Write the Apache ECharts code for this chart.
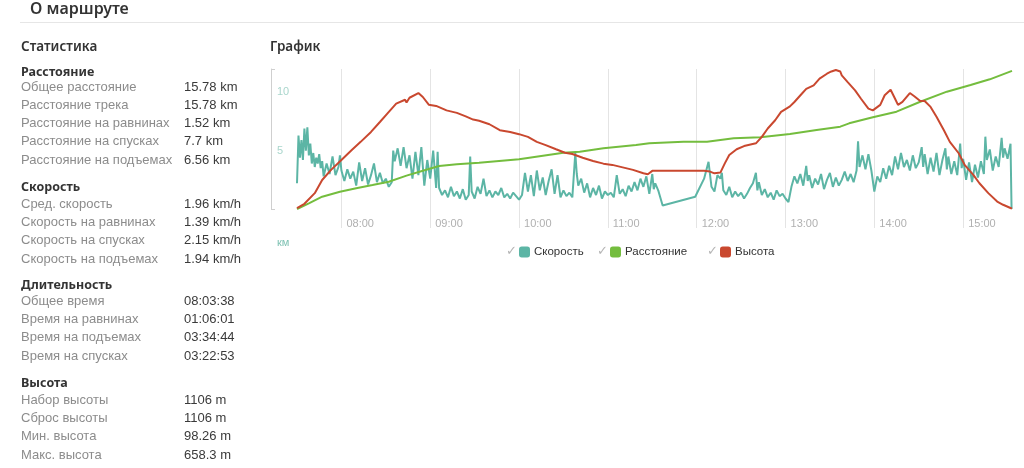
<!DOCTYPE html>
<html>
<head>
<meta charset="utf-8">
<script src="https://cdn.jsdelivr.net/npm/echarts@6/dist/echarts.min.js"></script>
<style>
html,body{margin:0;padding:0;background:#fff;}
#wrap{position:relative;width:1024px;height:468px;overflow:hidden;}
#chart{position:absolute;left:0;top:0;width:1024px;height:468px;}
.t{position:absolute;white-space:nowrap;pointer-events:none;z-index:2;}
.title{font-family:"Noto Sans",sans-serif;font-weight:600;color:#333;}
.h{font-family:"Noto Sans",sans-serif;font-weight:700;font-size:12.5px;color:#333;line-height:16px;}
.row{font-family:"Liberation Sans",Arial,sans-serif;font-size:13px;line-height:18.3px;height:18.3px;}
.row .l{position:absolute;left:0;color:#8c8c8c;}
.row .v{position:absolute;left:163px;color:#3a3a3a;}
#hr{position:absolute;left:20px;top:22px;width:1004px;height:1px;background:#e6e6e6;}
</style>
</head>
<body>
<div id="wrap">
<div id="chart"></div>
<div id="hr"></div>
<div class="t title" style="left:30px;top:-2px;font-size:16px;line-height:20px;">О маршруте</div>
<div class="t title" style="left:21px;top:37px;font-size:13.5px;line-height:18px;">Статистика</div>
<div class="t title" style="left:270px;top:37px;font-size:13.5px;line-height:18px;">График</div>
<div id="stats"></div>
</div>
<script>
// ---------- statistics panel data ----------
const statSections = ['Расстояние', 'Скорость', 'Длительность', 'Высота'];
const statLabels = [
  ['Общее расстояние', 'Расстояние трека', 'Расстояние на равнинах', 'Расстояние на спусках', 'Расстояние на подъемах'],
  ['Сред. скорость', 'Скорость на равнинах', 'Скорость на спусках', 'Скорость на подъемах'],
  ['Общее время', 'Время на равнинах', 'Время на подъемах', 'Время на спусках'],
  ['Набор высоты', 'Сброс высоты', 'Мин. высота', 'Макс. высота']
];
const statValues = [
  ['15.78 km', '15.78 km', '1.52 km', '7.7 km', '6.56 km'],
  ['1.96 km/h', '1.39 km/h', '2.15 km/h', '1.94 km/h'],
  ['08:03:38', '01:06:01', '03:34:44', '03:22:53'],
  ['1106 m', '1106 m', '98.26 m', '658.3 m']
];

// ---------- chart data (time in minutes of the day) ----------
const xTickLabels = ['08:00', '09:00', '10:00', '11:00', '12:00', '13:00', '14:00', '15:00'];
const yTickLabels = [5, 10];
const seriesNames = ['Скорость', 'Расстояние', 'Высота'];

const speedTimes = [450,451,452,453,454,455,456,457,458,459,460,461,462,463,464,465,466,467,468,470,472,474,476,478,479,480,482,484,486,488,490,492,494,496,498,500,502,504,506,508,510,512,514,515,516,518,520,522,524,526,528,530,532,534,536,538,540,542,544,545,546,548,550,552,554,556,558,560,562,564,566,567,568,570,572,574,576,578,580,582,584,586,588,590,592,594,596,598,600,602,604,606,608,610,612,614,616,618,620,622,624,626,628,630,632,634,636,638,639,640,642,644,646,648,650,652,654,656,658,660,662,664,666,668,670,672,674,676,678,680,682,684,686,688,690,691,692,694,697,719,725,728,730,732,734,736,737,738,740,742,744,746,748,750,752,754,756,758,760,761,762,764,766,768,770,772,774,776,778,780,782,784,786,788,790,792,794,795,796,798,800,802,804,806,808,810,812,814,816,818,820,822,824,826,828,829,830,832,834,836,838,840,842,844,846,848,850,852,854,856,858,860,862,864,866,868,870,872,873,874,876,878,880,882,884,886,888,889,890,892,894,896,898,899,900,902,904,906,908,910,912,914,915,916,918,920,922,924,926,927,928,930,932,932.7];
const speedValues = [2.2,6.3,4.4,5.9,4.2,6.9,5.0,7.0,4.6,5.6,3.9,4.8,3.6,4.4,3.9,4.7,3.5,4.1,2.8,3.9,3.0,4.5,2.9,3.6,4.6,3.3,2.4,3.4,2.6,3.2,2.0,4.0,2.4,3.5,2.1,2.9,3.9,2.3,3.1,2.2,2.6,1.9,2.3,5.0,4.1,5.2,3.7,5.3,3.5,4.6,2.6,4.9,2.9,5.3,2.0,4.2,2.6,5.0,1.8,4.9,1.8,1.2,1.6,1.0,1.9,1.1,1.5,0.9,1.7,0.8,1.2,4.5,1.5,0.9,1.9,1.3,2.6,1.1,1.6,1.0,1.5,1.2,1.8,1.0,1.3,0.9,1.4,1.1,0.8,1.2,3.1,1.5,2.9,1.1,3.3,1.6,2.7,1.2,2.4,3.4,1.3,2.9,1.0,1.6,1.1,1.4,1.0,4.8,3.0,2.0,2.6,1.4,2.2,1.0,1.8,1.2,2.0,0.9,1.5,1.2,1.4,1.0,2.9,1.3,1.7,1.1,2.0,1.5,2.3,1.6,2.6,1.9,2.8,1.3,3.0,1.7,2.2,1.6,0.3,1.05,2.6,4.05,1.9,1.5,2.9,2.6,3.1,1.6,1.2,1.9,1.0,1.5,1.1,1.4,0.9,1.3,1.8,2.2,3.1,1.6,2.3,1.2,1.7,1.0,1.4,0.8,1.6,1.1,1.3,0.9,0.6,1.9,2.8,2.2,3.0,2.0,3.7,2.4,2.9,1.8,2.6,2.1,3.0,1.7,2.5,3.1,1.9,2.7,2.0,2.5,3.2,2.4,3.0,2.3,3.3,5.8,3.6,4.6,3.4,4.7,3.3,1.5,2.8,2.3,3.5,2.6,3.7,2.9,4.5,3.4,4.8,3.6,4.2,3.3,4.6,3.5,4.0,5.3,3.6,4.7,3.0,4.4,3.2,4.8,2.9,4.2,5.2,3.4,4.5,3.0,4.1,2.9,5.6,3.5,4.3,2.5,4.0,2.3,3.8,2.7,4.1,3.0,6.2,4.2,5.1,3.3,4.5,3.6,6.1,4.4,5.2,4.3,5.6,0];

const distTimes = [450,458,467,479,490,501,512,524,535,546,558,573,600,630,641,657,679,688,711,727,745,763,783,801,817,823,839,855,871,889,905,918,933];
const distValues = [0,0.65,1.41,1.98,2.37,2.74,3.12,3.81,4.38,4.91,5.11,5.29,5.68,6.43,6.55,6.94,7.31,7.51,7.69,7.69,8.08,8.19,8.57,9.03,9.41,9.79,10.48,11.12,12.26,13.41,14.17,14.82,15.78];

const elevTimes = [450,455,462,467,473,480,487,493,500,506,511,517,523,524,526,532,535,539,544,551,558,564,569,573,580,587,594,600,606,612,618,625,631,636,643,650,657,663,670,677,684,687,690,725,729,732,736,739,742,747,752,760,764,768,773,777,783,786,791,794,799,803,808,811,814,817,818,822,827,831,836,839,844,847,851,854,856,859,864,867,871,874,878,882,887,891,897,901,907,911,917,923,927,932,933];
const elevValues = [101,118,161,214,255,295,335,368,408,448,482,522,538,527,546,565,549,518,513,495,485,471,458,453,439,415,408,399,388,368,355,338,324,319,304,291,280,275,265,255,241,237,251,251,248,241,244,281,315,338,351,362,388,422,455,489,511,529,562,582,596,623,643,652,658,652,636,609,576,542,502,495,517,556,578,542,517,529,565,552,533,533,509,469,415,368,322,275,234,201,161,127,114,101,98.26];

// ---------- build the stats panel ----------
const sectionHeadY = [71.7, 187, 285, 383.3];
const sectionRowY = [86.7, 204, 301, 400];
const statsEl = document.getElementById('stats');
let html = '';
statSections.forEach((s, i) => {
  html += '<div class="t h" style="left:21px;top:' + (sectionHeadY[i] - 8) + 'px;">' + s + '</div>';
  statLabels[i].forEach((lab, j) => {
    const y = sectionRowY[i] + j * 18.3 - 9.15;
    html += '<div class="t row" style="left:21px;top:' + y + 'px;"><span class="l">' + lab + '</span><span class="v">' + statValues[i][j] + '</span></div>';
  });
});
statsEl.innerHTML = html;

// ---------- chart ----------
function toMin(s) { const p = s.split(':'); return +p[0] * 60 + +p[1]; }
function fmt(v) { const h = Math.floor(v / 60), m = Math.round(v % 60); return (h < 10 ? '0' : '') + h + ':' + (m < 10 ? '0' : '') + m; }
const xTickValues = xTickLabels.map(toMin);
function pairs(t, v) { return t.map((x, i) => [x, v[i]]); }

const colors = ['#5cb5a5', '#74bd3e', '#c9482f'];
const grid = { left: 297, right: 12, top: 69, height: 140 };
const chart = echarts.init(document.getElementById('chart'), null, { renderer: 'canvas' });

const legendX = [519, 610, 720];
const checkX = [506, 597, 707];

chart.setOption({
  animation: false,
  color: colors,
  grid: grid,
  xAxis: {
    type: 'value', min: 450, max: 933,
    axisLine: { show: false },
    axisTick: { show: true, customValues: xTickValues, length: 19, lineStyle: { color: '#e4e4e4' } },
    axisLabel: { customValues: xTickValues, formatter: fmt, color: '#b0b0b0', fontSize: 11, fontFamily: 'Liberation Sans', align: 'left', padding: [0, 0, 0, 5], margin: 9 },
    splitLine: { show: true, lineStyle: { color: '#e4e4e4' } }
  },
  yAxis: [
    {
      type: 'value', min: 0, max: 12, position: 'left', offset: 26,
      axisLine: { show: true, lineStyle: { color: '#cfcfcf' } },
      axisTick: { show: true, customValues: [0, 12], inside: true, length: 4, lineStyle: { color: '#cfcfcf' } },
      axisLabel: { customValues: yTickLabels, inside: true, margin: 6, color: '#a9d6cc', fontSize: 11, fontFamily: 'Liberation Sans' },
      splitLine: { show: false },
      name: 'км', nameLocation: 'start', nameGap: 28,
      nameTextStyle: { color: '#7fc2b3', fontSize: 11, fontFamily: 'Liberation Sans', align: 'left', padding: [0, 0, 0, 6] }
    },
    { type: 'value', min: 0, max: 16, show: false, splitLine: { show: false } },
    { type: 'value', min: 97, max: 662, show: false, splitLine: { show: false } }
  ],
  legend: seriesNames.map((n, i) => ({
    data: [n], left: legendX[i], top: 246, padding: 0, icon: 'roundRect', itemWidth: 11, itemHeight: 11, itemGap: 4,
    textStyle: { color: '#333', fontSize: 11.5, fontFamily: 'Liberation Sans', padding: [0, 0, 0, -1] }
  })),
  graphic: checkX.map(x => ({
    type: 'text', left: x, top: 245, silent: true,
    style: { text: '✓', fill: '#b5b5b5', font: '13px "DejaVu Sans"' }
  })),
  series: [
    { name: seriesNames[0], type: 'line', yAxisIndex: 0, data: pairs(speedTimes, speedValues), showSymbol: false, lineStyle: { width: 2, color: colors[0] }, itemStyle: { color: colors[0] } },
    { name: seriesNames[1], type: 'line', yAxisIndex: 1, data: pairs(distTimes, distValues), showSymbol: false, lineStyle: { width: 2, color: colors[1] }, itemStyle: { color: colors[1] } },
    { name: seriesNames[2], type: 'line', yAxisIndex: 2, data: pairs(elevTimes, elevValues), showSymbol: false, lineStyle: { width: 2, color: colors[2] }, itemStyle: { color: colors[2] } }
  ]
});
</script>
</body>
</html>
